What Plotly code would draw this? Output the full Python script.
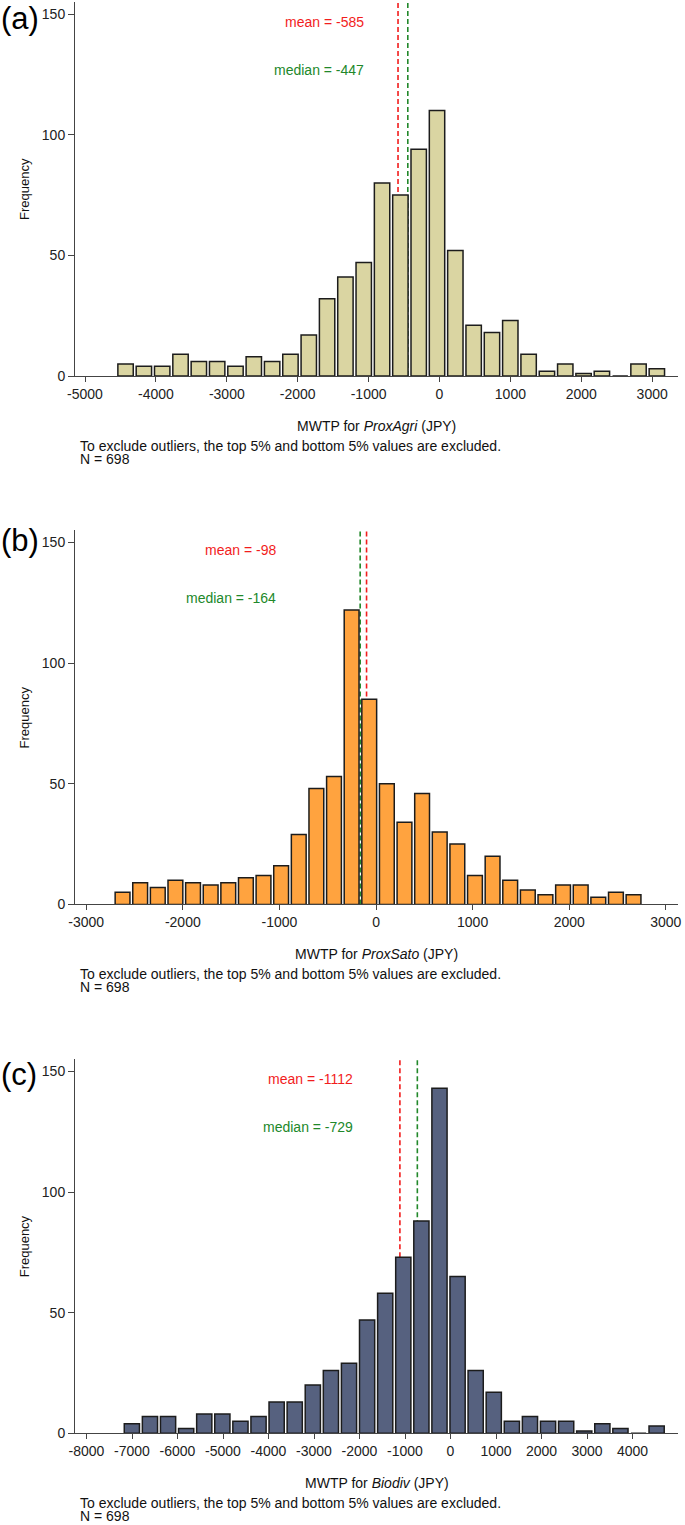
import plotly.graph_objects as go

# ---------------- data ----------------
# Panel (a) ProxAgri
agri_counts = [5, 4, 4, 9, 6, 6, 4, 8, 6, 9, 17, 32, 41, 47, 80, 75, 94, 110, 52, 21,
               18, 23, 9, 2, 5, 1, 2, 0, 5, 3]
agri_bin_start = -4557
agri_bin_width = 258.4
agri_mean = -585
agri_median = -447
agri_ticks = [-5000, -4000, -3000, -2000, -1000, 0, 1000, 2000, 3000]
agri_ticklabels = ["-5000", "-4000", "-3000", "-2000", "-1000", "0", "1000", "2000", "3000"]

# Panel (b) ProxSato
sato_counts = [5, 9, 7, 10, 9, 8, 9, 11, 12, 16, 29, 48, 53, 122, 85, 50, 34, 46, 30, 25,
               12, 20, 10, 6, 4, 8, 8, 3, 5, 4]
sato_bin_start = -2715
sato_bin_width = 182.4
sato_mean = -98
sato_median = -164
sato_ticks = [-3000, -2000, -1000, 0, 1000, 2000, 3000]
sato_ticklabels = ["-3000", "-2000", "-1000", "0", "1000", "2000", "3000"]

# Panel (c) Biodiv
bio_counts = [4, 7, 7, 2, 8, 8, 5, 7, 13, 13, 20, 26, 29, 47, 58, 73, 88, 143, 65, 26,
              17, 5, 7, 5, 5, 1, 4, 2, 0, 3]
bio_bin_start = -7202
bio_bin_width = 397.7
bio_mean = -1112
bio_median = -729
bio_ticks = [-8000, -7000, -6000, -5000, -4000, -3000, -2000, -1000, 0, 1000, 2000, 3000, 4000]
bio_ticklabels = ["-8000", "-7000", "-6000", "-5000", "-4000", "-3000", "-2000", "-1000",
                  "0", "1000", "2000", "3000", "4000"]

y_ticks = [0, 50, 100, 150]
y_ticklabels = ["0", "50", "100", "150"]
n_obs = 698
note_text = "To exclude outliers, the top 5% and bottom 5% values are excluded."

panels = [
    dict(letter="(a)", name="ProxAgri", counts=agri_counts, start=agri_bin_start,
         width=agri_bin_width, mean=agri_mean, median=agri_median, ticks=agri_ticks,
         ticklabels=agri_ticklabels, color="#dad5a2", xrange=[-5141, 3364], labx=-1038,
         domain=[0.75344, 0.99869], lab_shift=-4),
    dict(letter="(b)", name="ProxSato", counts=sato_counts, start=sato_bin_start,
         width=sato_bin_width, mean=sato_mean, median=sato_median, ticks=sato_ticks,
         ticklabels=sato_ticklabels, color="#ffa33f", xrange=[-3116, 3126], labx=-1019,
         domain=[0.40695, 0.65220], lab_shift=2),
    dict(letter="(c)", name="Biodiv", counts=bio_counts, start=bio_bin_start,
         width=bio_bin_width, mean=bio_mean, median=bio_median, ticks=bio_ticks,
         ticklabels=bio_ticklabels, color="#56617f", xrange=[-8253, 5000], labx=-2092,
         domain=[0.06013, 0.30538], lab_shift=-3),
]

FONT = "Liberation Sans, Arial, sans-serif"
RED = "#f21d1d"
GREEN = "#21882a"

fig = go.Figure()
layout = dict(
    width=685, height=1525, autosize=False,
    margin=dict(l=75, r=7, t=0, b=0, autoexpand=False),
    paper_bgcolor="white", plot_bgcolor="white",
    showlegend=False, bargap=0.16,
    font=dict(family=FONT, size=14, color="#222"),
)
annotations = []
shapes = []

for i, p in enumerate(panels):
    sfx = "" if i == 0 else str(i + 1)
    xa = "x" + sfx
    ya = "y" + sfx
    centers = [p["start"] + p["width"] * (k + 0.5) for k in range(len(p["counts"]))]
    fig.add_trace(go.Bar(
        x=centers, y=p["counts"], width=p["width"] * 0.84,
        marker=dict(color=p["color"], line=dict(color="#1c1c1c", width=1.5)),
        xaxis=xa, yaxis=ya, hoverinfo="x+y",
    ))
    layout["xaxis" + sfx] = dict(
        domain=[0, 1], anchor=ya, range=p["xrange"], showgrid=False, zeroline=False,
        showline=True, linecolor="#444", linewidth=1, automargin=False,
        ticks="outside", ticklen=5, tickcolor="#444", tickwidth=1,
        tickmode="array", tickvals=p["ticks"], ticktext=p["ticklabels"],
        tickfont=dict(family=FONT, size=14, color="#222"),
    )
    layout["yaxis" + sfx] = dict(
        domain=p["domain"], anchor=xa, range=[0, 155], showgrid=False, zeroline=False,
        showline=True, linecolor="#444", linewidth=1, automargin=False,
        ticks="outside", ticklen=6, tickcolor="#444", tickwidth=1,
        tickmode="array", tickvals=y_ticks, ticktext=y_ticklabels,
        tickfont=dict(family=FONT, size=14, color="#222"),
    )
    # mean / median lines
    for val, col in [(p["mean"], RED), (p["median"], GREEN)]:
        shapes.append(dict(type="line", xref=xa, yref=ya + " domain", x0=val, x1=val,
                           y0=0, y1=1, layer="below",
                           line=dict(color=col, width=1.6, dash="5px,3px")))
    annotations.append(dict(xref=xa, yref=ya, x=p["labx"], y=146.7, xanchor="right",
                            yanchor="middle", showarrow=False,
                            text="mean = %d" % p["mean"],
                            font=dict(family=FONT, size=14, color=RED)))
    annotations.append(dict(xref=xa, yref=ya, x=p["labx"], y=127, xanchor="right",
                            yanchor="middle", showarrow=False,
                            text="median = %d" % p["median"],
                            font=dict(family=FONT, size=14, color=GREEN)))
    # axis title
    annotations.append(dict(xref=xa + " domain", yref=ya + " domain", x=0.5, y=0,
                            yshift=-50, xanchor="center", yanchor="middle", showarrow=False,
                            text="MWTP for <i>%s</i> (JPY)" % p["name"],
                            font=dict(family=FONT, size=14, color="#111")))
    annotations.append(dict(xref=xa + " domain", yref=ya + " domain", x=0, y=0,
                            xshift=3, yshift=-70, xanchor="left", yanchor="middle",
                            showarrow=False, text=note_text,
                            font=dict(family=FONT, size=14, color="#111")))
    annotations.append(dict(xref=xa + " domain", yref=ya + " domain", x=0, y=0,
                            xshift=3, yshift=-83, xanchor="left", yanchor="middle",
                            showarrow=False, text="N = %d" % n_obs,
                            font=dict(family=FONT, size=14, color="#111")))
    annotations.append(dict(xref=xa + " domain", yref=ya + " domain", x=0, y=0.5,
                            xshift=-51, xanchor="center", yanchor="middle", textangle=-90,
                            showarrow=False, text="Frequency",
                            font=dict(family=FONT, size=13, color="#111")))
    annotations.append(dict(xref=xa + " domain", yref=ya, x=0, y=150,
                            xshift=-76, yshift=p["lab_shift"], xanchor="left",
                            yanchor="middle", showarrow=False, text=p["letter"],
                            font=dict(family=FONT, size=31, color="#000")))

layout["annotations"] = annotations
layout["shapes"] = shapes
fig.update_layout(**layout)
fig.write_html(
    "out.html",
    config={"displayModeBar": False},
    post_script="document.body.style.margin='0';document.body.style.overflow='hidden';",
)
